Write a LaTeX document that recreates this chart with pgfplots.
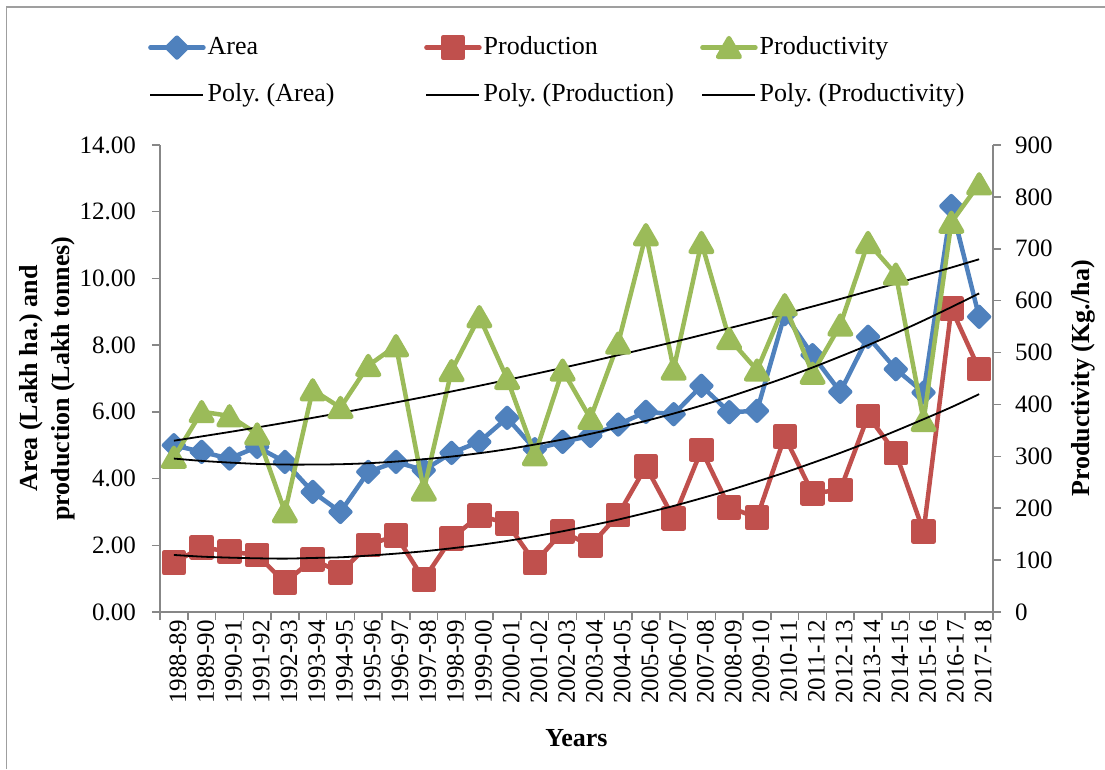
\documentclass[border=0pt]{standalone}
\usepackage{fontspec}
\setmainfont{Liberation Serif}
\usepackage{pgfplots}
\usepackage{pgfplotstable}
\pgfplotsset{compat=1.18}
\frenchspacing
\definecolor{areac}{HTML}{4F81BD}
\definecolor{prodc}{HTML}{C0504D}
\definecolor{pdtc}{HTML}{9BBB59}
\definecolor{axisgray}{HTML}{878787}
\newcommand{\tickfont}{\fontsize{25}{29}\selectfont}
\newcommand{\legfont}{\fontsize{26}{30}\selectfont}
\newcommand{\labfont}{\fontsize{26}{32}\selectfont\bfseries}

\pgfplotstableread{
x area prod pdty areat prodt pdtyt
0 5.00 1.48 298 4.60 1.71 330.1
1 4.80 1.94 386 4.53 1.66 338.4
2 4.60 1.81 378 4.48 1.63 346.9
3 4.95 1.71 343 4.44 1.61 355.7
4 4.50 0.88 193 4.42 1.60 364.8
5 3.60 1.58 428 4.42 1.62 374.2
6 3.00 1.18 394 4.43 1.64 383.8
7 4.20 2.01 475 4.46 1.69 393.7
8 4.50 2.29 513 4.51 1.75 403.9
9 4.25 0.98 235 4.58 1.82 414.3
10 4.77 2.21 465 4.66 1.91 425.0
11 5.10 2.89 569 4.76 2.01 436.0
12 5.82 2.66 450 4.88 2.13 447.3
13 4.88 1.48 303 5.02 2.27 458.8
14 5.10 2.41 466 5.17 2.42 470.6
15 5.28 1.99 373 5.34 2.59 482.6
16 5.62 2.91 518 5.53 2.77 495.0
17 6.00 4.36 727 5.73 2.97 507.6
18 5.93 2.81 468 5.95 3.18 520.4
19 6.78 4.86 712 6.19 3.41 533.6
20 5.99 3.14 527 6.45 3.65 547.0
21 6.03 2.83 466 6.73 3.91 560.6
22 8.93 5.26 592 7.02 4.18 574.6
23 7.70 3.56 460 7.33 4.47 588.8
24 6.60 3.66 553 7.66 4.77 603.3
25 8.25 5.88 712 8.00 5.09 618.1
26 7.28 4.76 651 8.36 5.43 633.1
27 6.58 2.41 369 8.74 5.78 648.4
28 12.17 9.10 751 9.14 6.14 663.9
29 8.85 7.28 825 9.55 6.53 679.8
}\datatable

\pgfplotsset{
  geom/.style={
    at={(160pt,157pt)}, anchor=south west,
    scale only axis, width=833pt, height=467pt,
    xmin=-0.5, xmax=29.5, clip=false,
  },
  arealine/.style={areac, line width=4.5pt, line cap=round, line join=round,
    mark=square*, mark size=7pt, mark options={rotate=45, solid}},
  prodline/.style={prodc, line width=4.5pt, line cap=round, line join=round,
    mark=square*, mark size=10pt, mark options={solid}},
  pdtyline/.style={pdtc, line width=4.5pt, line cap=round, line join=round,
    mark=triangle*, mark size=12.5pt, mark options={solid, yshift=-3pt}},
  trendline/.style={black, line width=1.8pt, no markers, smooth},
}

\begin{document}
\begin{tikzpicture}[x=1pt,y=1pt]
\useasboundingbox (0,0) rectangle (1105,769);
\draw[axisgray!80, line width=1.5pt] (6.5,0) -- (6.5,762) -- (1105,762);

% primary axis
\begin{axis}[geom,
  ymin=0, ymax=14,
  axis x line*=bottom, axis y line*=left,
  axis line style={axisgray, line width=1.5pt},
  tick style={axisgray, line width=1.5pt},
  tick align=outside, major tick length=8pt,
  xtick={-0.5,0.5,1.5,2.5,3.5,4.5,5.5,6.5,7.5,8.5,9.5,10.5,11.5,12.5,13.5,14.5,15.5,16.5,17.5,18.5,19.5,20.5,21.5,22.5,23.5,24.5,25.5,26.5,27.5,28.5,29.5},
  x tick label as interval,
  xticklabels={1988-89,1989-90,1990-91,1991-92,1992-93,1993-94,1994-95,1995-96,1996-97,1997-98,1998-99,1999-00,2000-01,2001-02,2002-03,2003-04,2004-05,2005-06,2006-07,2007-08,2008-09,2009-10,2010-11,2011-12,2012-13,2013-14,2014-15,2015-16,2016-17,2017-18},
  xticklabel style={rotate=90, anchor=east, font=\tickfont, text=black, inner sep=0pt, yshift=-4pt},
  ytick={0,2,...,14},
  yticklabel style={font=\tickfont, text=black, inner sep=0pt, xshift=-16pt,
    /pgf/number format/.cd, fixed, fixed zerofill, precision=2, assume math mode=true},
  ylabel={Area (Lakh ha.) and\\production (Lakh tonnes)},
  every axis y label/.style={at={(axis description cs:-0.135,0.5)}, rotate=90, anchor=center, align=center, font=\labfont},
  xlabel={Years},
  every axis x label/.style={at={(axis description cs:0.5,-0.27)}, anchor=center, font=\labfont},
]
\addplot[arealine] table[x=x, y=area] {\datatable};
\addplot[prodline] table[x=x, y=prod] {\datatable};
\end{axis}

% secondary axis
\begin{axis}[geom,
  ymin=0, ymax=900,
  axis x line=none, axis y line*=right,
  axis line style={axisgray, line width=1.5pt},
  tick style={axisgray, line width=1.5pt},
  tick align=outside, major tick length=8pt,
  ytick={0,100,...,900},
  yticklabel style={font=\tickfont, text=black, inner sep=0pt, xshift=14pt,
    /pgf/number format/.cd, fixed, assume math mode=true},
  ylabel={Productivity (Kg./ha)},
  every axis y label/.style={at={(axis description cs:1.108,0.5)}, rotate=90, anchor=center, font=\labfont},
]
\addplot[pdtyline] table[x=x, y=pdty] {\datatable};
\addplot[trendline] table[x=x, y=pdtyt] {\datatable};
\end{axis}

% trend lines and legend
\begin{axis}[geom,
  ymin=0, ymax=14,
  hide axis,
  legend columns=3,
  legend image code/.code={\draw[#1, mark repeat=2, mark phase=2] plot coordinates {(0pt,0pt) (26.5pt,0pt) (53pt,0pt)};},
  legend style={at={(axis description cs:-0.018,1.240)}, anchor=north west,
    draw=none, fill=none, font=\legfont,
    nodes={inner xsep=0.5pt, inner ysep=0pt, text height=19pt, text depth=6pt},
    row sep=22pt,
    /tikz/every odd column/.append style={column sep=1.5pt},
    /tikz/every even column/.append style={column sep=2pt}},
]
\addlegendimage{arealine}
\addlegendentry{\makebox[214pt][l]{Area}}
\addlegendimage{prodline}
\addlegendentry{\makebox[214pt][l]{Production}}
\addlegendimage{pdtyline}
\addlegendentry{\makebox[214pt][l]{Productivity}}
\addlegendimage{black, line width=1.8pt}
\addlegendentry{\makebox[214pt][l]{Poly.\ (Area)}}
\addlegendimage{black, line width=1.8pt}
\addlegendentry{\makebox[214pt][l]{Poly.\ (Production)}}
\addlegendimage{black, line width=1.8pt}
\addlegendentry{\makebox[214pt][l]{Poly.\ (Productivity)}}
\addplot[trendline, forget plot] table[x=x, y=areat] {\datatable};
\addplot[trendline, forget plot] table[x=x, y=prodt] {\datatable};
\end{axis}
\end{tikzpicture}
\end{document}
